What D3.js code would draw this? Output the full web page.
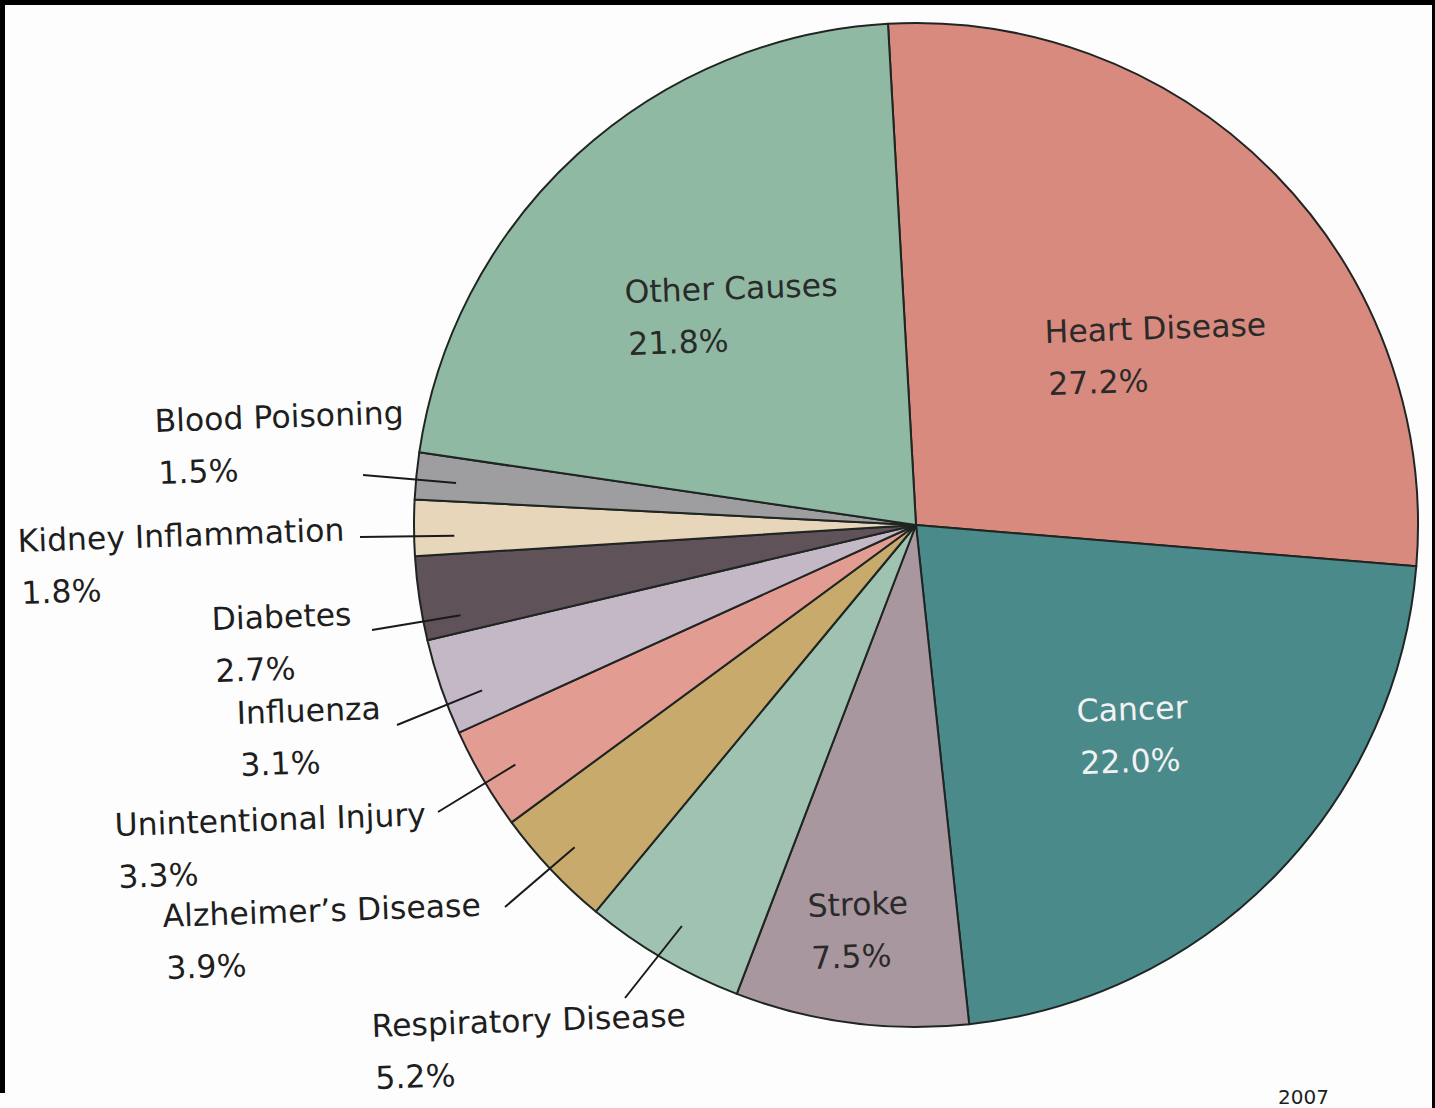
<!DOCTYPE html>
<html>
<head>
<meta charset="utf-8">
<script src="https://cdn.jsdelivr.net/npm/d3@7"></script>
<style>
  html, body { margin: 0; padding: 0; background: #ffffff; }
  svg { display: block; }
  text { font-family: "DejaVu Sans", sans-serif; }
</style>
</head>
<body>
<svg id="chart" width="1435" height="1108"></svg>
<script>
// ---- data ----
const categories = ["Heart Disease", "Cancer", "Stroke", "Respiratory Disease", "Alzheimer\u2019s Disease",
  "Unintentional Injury", "Influenza", "Diabetes", "Kidney Inflammation", "Blood Poisoning", "Other Causes"];
const values = [27.2, 22.0, 7.5, 5.2, 3.9, 3.3, 3.1, 2.7, 1.8, 1.5, 21.8];
const valueLabels = ["27.2%", "22.0%", "7.5%", "5.2%", "3.9%", "3.3%", "3.1%", "2.7%", "1.8%", "1.5%", "21.8%"];
const colors = ["#d98a7f", "#4b8a8b", "#a9979f", "#a0c2b1", "#c9aa6d", "#e29c91", "#c4b7c6", "#5f5259", "#e7d6ba", "#9e9ea0", "#8fb9a3"];
const footerText = "2007";

// ---- layout (positions / styles) ----
const W = 1435, H = 1108;
const cx = 916, cy = 525, R = 502;
const startDeg = -3.2;
const fontSize = 31.5;
const lineGap = 50;
const tilt = -2;
// label layout: text start (x, baseline y), optional leader (outer end, angle offset deg, radius fraction), text colour
const labelLayout = {
  "Heart Disease":          { x: 1045, y: 343, fill: "#2a2a2a" },
  "Cancer":                 { x: 1077, y: 722, fill: "#f2f2f2" },
  "Stroke":                 { x: 808,  y: 917, fill: "#2a2a2a" },
  "Respiratory Disease":    { x: 372,  y: 1037, fill: "#1e1e1e", lx: 625, ly: 998, dA: 0, rf: 0.925 },
  "Alzheimer\u2019s Disease": { x: 163, y: 927, fill: "#1e1e1e", lx: 505, ly: 907, dA: 0, rf: 0.935 },
  "Unintentional Injury":   { x: 115,  y: 836, fill: "#1e1e1e", lx: 438, ly: 812, dA: -0.5, rf: 0.93 },
  "Influenza":              { x: 237,  y: 724, fill: "#1e1e1e", lx: 397, ly: 725, dA: -2, rf: 0.925 },
  "Diabetes":               { x: 212,  y: 630, fill: "#1e1e1e", lx: 372, ly: 630, dA: -2.8, rf: 0.925 },
  "Kidney Inflammation":    { x: 18,   y: 552, fill: "#1e1e1e", lx: 360, ly: 537, dA: -1, rf: 0.92 },
  "Blood Poisoning":        { x: 155,  y: 432, fill: "#1e1e1e", lx: 363, ly: 475, dA: -0.4, rf: 0.92 },
  "Other Causes":           { x: 625,  y: 303, fill: "#2a2a2a" }
};

const svg = d3.select("#chart");
svg.append("rect").attr("x", 0).attr("y", 0).attr("width", W).attr("height", H).attr("fill", "#fdfdfd");

const rad = d => d * Math.PI / 180;
const pie = d3.pie().sort(null).value(d => d.value)
  .startAngle(rad(startDeg)).endAngle(rad(startDeg) + 2 * Math.PI);
const data = categories.map((c, i) => ({ name: c, value: values[i], label: valueLabels[i], color: colors[i] }));
const arcs = pie(data);
const arc = d3.arc().innerRadius(0).outerRadius(R);

const g = svg.append("g").attr("transform", `translate(${cx},${cy})`);
g.selectAll("path.slice").data(arcs).enter().append("path")
  .attr("class", "slice")
  .attr("d", arc)
  .attr("fill", d => d.data.color)
  .attr("stroke", "#1f2522")
  .attr("stroke-width", 2)
  .attr("stroke-linejoin", "round");

// leader lines
const leaders = arcs.filter(d => labelLayout[d.data.name].lx !== undefined);
svg.selectAll("line.leader").data(leaders).enter().append("line")
  .attr("class", "leader")
  .attr("x1", d => labelLayout[d.data.name].lx)
  .attr("y1", d => labelLayout[d.data.name].ly)
  .attr("x2", d => {
    const L = labelLayout[d.data.name];
    const a = (d.startAngle + d.endAngle) / 2 + rad(L.dA);
    return cx + R * L.rf * Math.sin(a);
  })
  .attr("y2", d => {
    const L = labelLayout[d.data.name];
    const a = (d.startAngle + d.endAngle) / 2 + rad(L.dA);
    return cy - R * L.rf * Math.cos(a);
  })
  .attr("stroke", "#1a1a1a")
  .attr("stroke-width", 2);

// labels
const lbl = svg.selectAll("g.label").data(arcs).enter().append("g")
  .attr("class", "label")
  .attr("transform", d => {
    const L = labelLayout[d.data.name];
    return `translate(${L.x},${L.y}) rotate(${tilt})`;
  });
lbl.append("text")
  .attr("x", 0).attr("y", 0)
  .attr("font-size", fontSize)
  .attr("fill", d => labelLayout[d.data.name].fill)
  .text(d => d.data.name);
lbl.append("text")
  .attr("x", 2).attr("y", lineGap + 2)
  .attr("font-size", fontSize)
  .attr("fill", d => labelLayout[d.data.name].fill)
  .text(d => d.data.label);

// footer text near the bottom edge
svg.append("text").attr("x", 1278).attr("y", 1104)
  .attr("font-size", 20).attr("fill", "#1e1e1e").text(footerText);

// scan border
svg.append("rect").attr("x", 0).attr("y", 0).attr("width", W).attr("height", 5).attr("fill", "#000");
svg.append("rect").attr("x", 0).attr("y", 0).attr("width", 5).attr("height", 1093).attr("fill", "#000");
svg.append("rect").attr("x", 1432).attr("y", 0).attr("width", 3).attr("height", H).attr("fill", "#000");
</script>
</body>
</html>
